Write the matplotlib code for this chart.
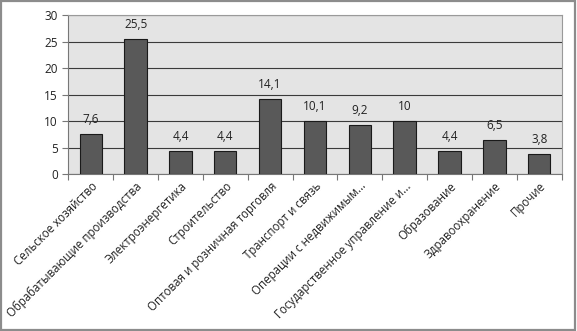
import matplotlib.pyplot as plt
from matplotlib.patches import Rectangle

# shares by sector, %
sectors = [
    "Сельское хозяйство",
    "Обрабатывающие производства",
    "Электроэнергетика",
    "Строительство",
    "Оптовая и розничная торговля",
    "Транспорт и связь",
    "Операции с недвижимым...",
    "Государственное управление и...",
    "Образование",
    "Здравоохранение",
    "Прочие",
]
shares = [7.6, 25.5, 4.4, 4.4, 14.1, 10.1, 9.2, 10, 4.4, 6.5, 3.8]
value_labels = ["7,6", "25,5", "4,4", "4,4", "14,1", "10,1", "9,2", "10", "4,4", "6,5", "3,8"]
y_ticks = [0, 5, 10, 15, 20, 25, 30]

plt.rcParams["font.family"] = ["Open Sans", "DejaVu Sans"]

fig = plt.figure(figsize=(5.77, 3.31), dpi=100)
fig.patch.set_facecolor("white")
# outer chart border
fig.add_artist(Rectangle((0.002, 0.003), 0.995, 0.993, transform=fig.transFigure,
                         fill=False, edgecolor="#8c8c8c", linewidth=1.6))

ax = fig.add_axes([0.1184, 0.4743, 0.855, 0.480])
ax.set_facecolor("#e4e4e4")

x = list(range(len(sectors)))
ax.bar(x, shares, width=0.5, color="#595959", edgecolor="#1a1a1a", linewidth=0.8, zorder=3)

for xi, v, lab in zip(x, shares, value_labels):
    ax.text(xi, v + 1.5, lab, ha="center", va="bottom", fontsize=8.5, color="#222222")

ax.set_xlim(-0.5, len(sectors) - 0.5)
ax.set_ylim(0, 30)
ax.set_yticks(y_ticks)
ax.yaxis.grid(True, color="#3a3a3a", linewidth=0.8, zorder=1)
ax.set_axisbelow(True)

# ticks sit between categories, labels under the bars
ax.set_xticks([i - 0.5 for i in range(len(sectors) + 1)])
ax.set_xticklabels([])
ax.set_xticks(x, minor=True)
ax.set_xticklabels(sectors, minor=True, rotation=45, ha="right", rotation_mode="anchor",
                   fontsize=8.3, color="#222222")
ax.tick_params(axis="x", which="major", direction="out", length=4, color="#777777")
ax.tick_params(axis="x", which="minor", length=0, pad=4)
ax.tick_params(axis="y", direction="out", length=4, color="#777777", labelsize=8.5,
               labelcolor="#222222")

for side in ["left", "bottom"]:
    ax.spines[side].set_color("#777777")
for side in ["top", "right"]:
    ax.spines[side].set_color("#9a9a9a")

fig.savefig("out.png", dpi=100)
